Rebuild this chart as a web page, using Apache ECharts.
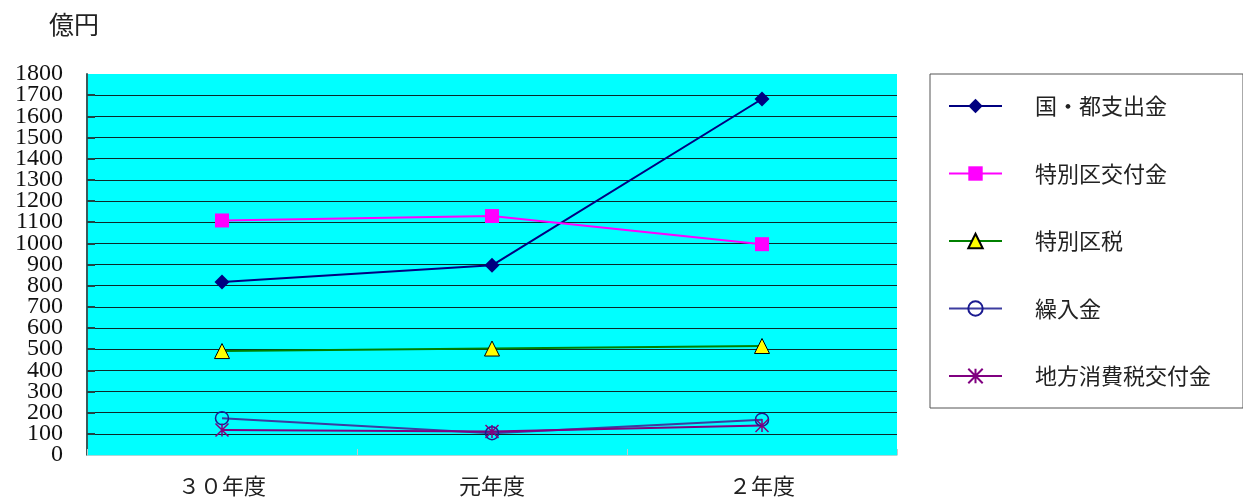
<!DOCTYPE html>
<html>
<head>
<meta charset="utf-8">
<script src="https://cdn.jsdelivr.net/npm/echarts@6/dist/echarts.min.js"></script>
<style>
  html, body { margin: 0; padding: 0; background: #fff; }
  #chart { width: 1243px; height: 497px; }
</style>
</head>
<body>
<div id="chart"></div>
<script>
// Fiscal years on the category axis
const years = ['３０年度', '元年度', '２年度'];

// Revenue items, in 億円
const kokuToShishutsukin = [817, 896, 1682];   // 国・都支出金
const tokubetsukuKofukin = [1108, 1129, 996];  // 特別区交付金
const tokubetsukuZei = [491, 503, 515];        // 特別区税
const kuriirekin = [174, 103, 167];            // 繰入金
const chihoShohizeiKofukin = [118, 111, 139];  // 地方消費税交付金

const seriesNames = ['国・都支出金', '特別区交付金', '特別区税', '繰入金', '地方消費税交付金'];

// Y axis range
const yMin = 0, yMax = 1800, yStep = 100;

const CJK = '"Noto Sans CJK JP", sans-serif';
const SERIF = '"Liberation Serif", "DejaVu Serif", serif';

const asterisk = 'path://M0,0L10,10M10,0L0,10M5,0L5,10';

const yLabelStyle = {
  fontFamily: SERIF, fontSize: 24, color: '#111', margin: 24,
  formatter: (v) => String(v)
};

const chart = echarts.init(document.getElementById('chart'), null, { renderer: 'canvas' });

chart.setOption({
  animation: false,
  backgroundColor: '#ffffff',
  title: {
    text: '億円',
    left: 44,
    top: 7,
    textStyle: { fontFamily: CJK, fontSize: 25, fontWeight: 'normal', color: '#222' }
  },
  grid: {
    left: 87, right: 346, top: 74, bottom: 42,
    show: true, backgroundColor: '#00ffff', borderWidth: 0
  },
  legend: {
    orient: 'vertical',
    left: 930, top: 74,
    padding: [21, 32, 21, 18],
    itemGap: 45.5,
    itemWidth: 53,
    itemHeight: 18,
    selectedMode: false,
    borderColor: '#555',
    borderWidth: 1,
    data: seriesNames,
    textStyle: { fontFamily: CJK, fontSize: 22, color: '#222', padding: [0, 0, 0, 28] }
  },
  xAxis: {
    type: 'category',
    data: years,
    boundaryGap: true,
    axisLine: { show: true, lineStyle: { color: '#a8d8d8', width: 1 } },
    axisTick: { show: true, inside: true, length: 6, lineStyle: { color: '#c8c8c8' } },
    axisLabel: { fontFamily: CJK, fontSize: 22, color: '#222', margin: 20 },
    splitLine: { show: false }
  },
  yAxis: [
    {
      // main value axis: line, ticks, grid lines and the inner labels
      type: 'value', position: 'left',
      min: yMin, max: yMax, interval: yStep,
      axisLine: { show: true, lineStyle: { color: '#3a5a5a', width: 2 } },
      axisTick: { show: true, inside: true, length: 8, lineStyle: { color: '#224444', width: 2 } },
      axisLabel: Object.assign({ showMinLabel: false, showMaxLabel: false }, yLabelStyle),
      splitLine: {
        show: true, showMinLine: false, showMaxLine: false,
        lineStyle: { color: '#0a2a2a', width: 1 }
      }
    },
    {
      // companion axis carrying only the end labels (0 and 1800)
      type: 'value', position: 'left',
      min: yMin, max: yMax, interval: yStep,
      axisLine: { show: false },
      axisTick: { show: false },
      splitLine: { show: false },
      axisLabel: Object.assign({ customValues: [yMin, yMax], showMinLabel: true, showMaxLabel: true }, yLabelStyle)
    }
  ],
  series: [
    {
      name: seriesNames[0], type: 'line', data: kokuToShishutsukin,
      symbol: 'diamond', symbolSize: 15,
      lineStyle: { color: '#000080', width: 2 },
      itemStyle: { color: '#000080' }
    },
    {
      name: seriesNames[1], type: 'line', data: tokubetsukuKofukin,
      symbol: 'rect', symbolSize: 14,
      lineStyle: { color: '#ff00ff', width: 2 },
      itemStyle: { color: '#ff00ff' }
    },
    {
      name: seriesNames[2], type: 'line', data: tokubetsukuZei,
      symbol: 'triangle', symbolSize: 15,
      lineStyle: { color: '#008000', width: 2 },
      itemStyle: { color: '#ffff00', borderColor: '#000', borderWidth: 1 }
    },
    {
      name: seriesNames[3], type: 'line', data: kuriirekin,
      symbol: 'circle', symbolSize: 13,
      lineStyle: { color: '#3c3ca0', width: 2 },
      itemStyle: { color: 'rgba(0,0,0,0)', borderColor: '#1a1a90', borderWidth: 1.5 }
    },
    {
      name: seriesNames[4], type: 'line', data: chihoShohizeiKofukin,
      symbol: asterisk, symbolSize: 13,
      lineStyle: { color: '#800080', width: 2 },
      itemStyle: { color: '#800080', borderColor: '#800080', borderWidth: 1.5 }
    }
  ]
});
</script>
</body>
</html>
